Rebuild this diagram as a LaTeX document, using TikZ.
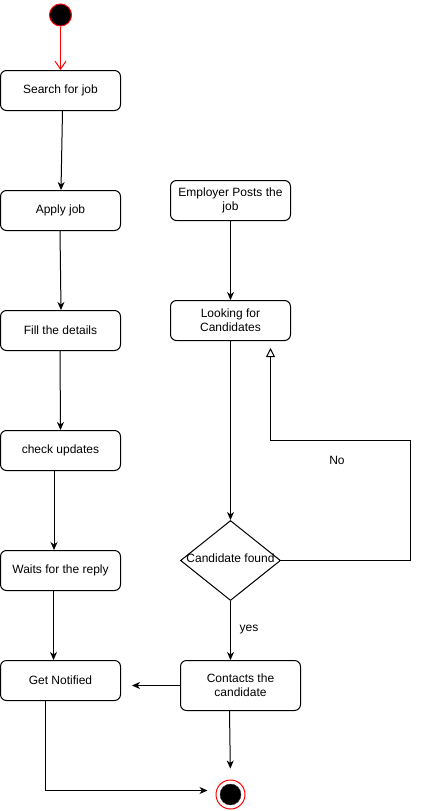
\documentclass[tikz,border=0pt]{standalone}
\usepackage{fontspec}
\setmainfont{Liberation Sans}
\usetikzlibrary{arrows.meta,shapes.geometric}
\begin{document}
\begin{tikzpicture}[x=1pt,y=-1pt,
  every node/.style={font=\fontsize{12}{14}\selectfont},
  act/.style={draw, rounded corners=6pt, minimum width=120pt, minimum height=40pt, inner sep=0pt, align=center, line width=1pt},
  flow/.style={line width=1pt, -{Stealth[length=8pt,width=7pt,inset=2.5pt]}},
  line/.style={line width=1pt}]
\useasboundingbox (0,0) rectangle (421,811);
% start
\node[circle, fill=black, draw=red, line width=1pt, minimum size=22pt, inner sep=0pt] (start) at (60.5,15) {};
% left column
\node[act] (search) at (60.5,90.5) {Search for job};
\node[act] (apply) at (60.5,210.5) {Apply job};
\node[act] (fill) at (60.5,330.5) {Fill the details};
\node[act] (check) at (60.5,450.5) {check updates};
\node[act] (waits) at (60.5,570.5) {Waits for the reply};
\node[act] (notified) at (60.5,680.5) {Get Notified};
% right column
\node[act] (employer) at (230.5,200.5) {Employer Posts the\\job};
\node[act] (looking) at (230.5,320.5) {Looking for\\Candidates};
\node[diamond, draw, line width=1pt, minimum width=100pt, minimum height=80pt, aspect=1.25, inner sep=0pt] (dec) at (230.5,560.5) {};
\node (dectext) at ([yshift=2pt]dec.center) {Candidate found};
\node[act, minimum height=50pt] (contacts) at (240.5,685.5) {Contacts the\\candidate};
% end
\node[circle, draw=red, line width=1pt, minimum size=29pt, inner sep=0pt] (end) at (230.5,794.5) {};
\node[circle, fill=black, draw=black!80, minimum size=21pt, inner sep=0pt] (endin) at (end.center) {};
% labels
\node (nolab) at (337,460) {No};
\node (yeslab) at (249,630) {yes};
% connectors
\draw[red, line width=1pt, -{Straight Barb[length=8pt,width=11pt]}] (start.south) -- (search.north);
\draw[flow] ([xshift=2pt]search.south) -- ([xshift=0.5pt]apply.north);
\draw[flow] ([xshift=-0.5pt]apply.south) -- ([xshift=0.5pt]fill.north);
\draw[flow] ([xshift=-0.5pt]fill.south) -- (check.north);
\draw[flow] ([xshift=-6.5pt]check.south) -- ([xshift=-6.5pt]waits.north);
\draw[flow] ([xshift=-7pt]waits.south) -- ([xshift=-7pt]notified.north);
\draw[flow] (employer.south) -- (looking.south |- looking.north);
\draw[flow] (looking.south) -- (dec.north);
\draw[flow] (dec.south) -- (dec.south |- contacts.north);
\coordinate (nocorner) at (410,440.5);
\coordinate (noend) at (270.5,348);
\draw[line width=1pt, -{Triangle[open,length=9pt,width=9pt]}] (dec.east) -| (nocorner) -| (noend);
\draw[flow, shorten >=11pt] (contacts.west) -- (contacts.west -| notified.east);
\draw[flow, shorten >=11pt] ([xshift=-11pt]contacts.south) -- (end.north);
\draw[flow, shorten >=8pt] ([xshift=-15pt]notified.south) |- ([yshift=4pt]end.west);
\end{tikzpicture}
\end{document}
